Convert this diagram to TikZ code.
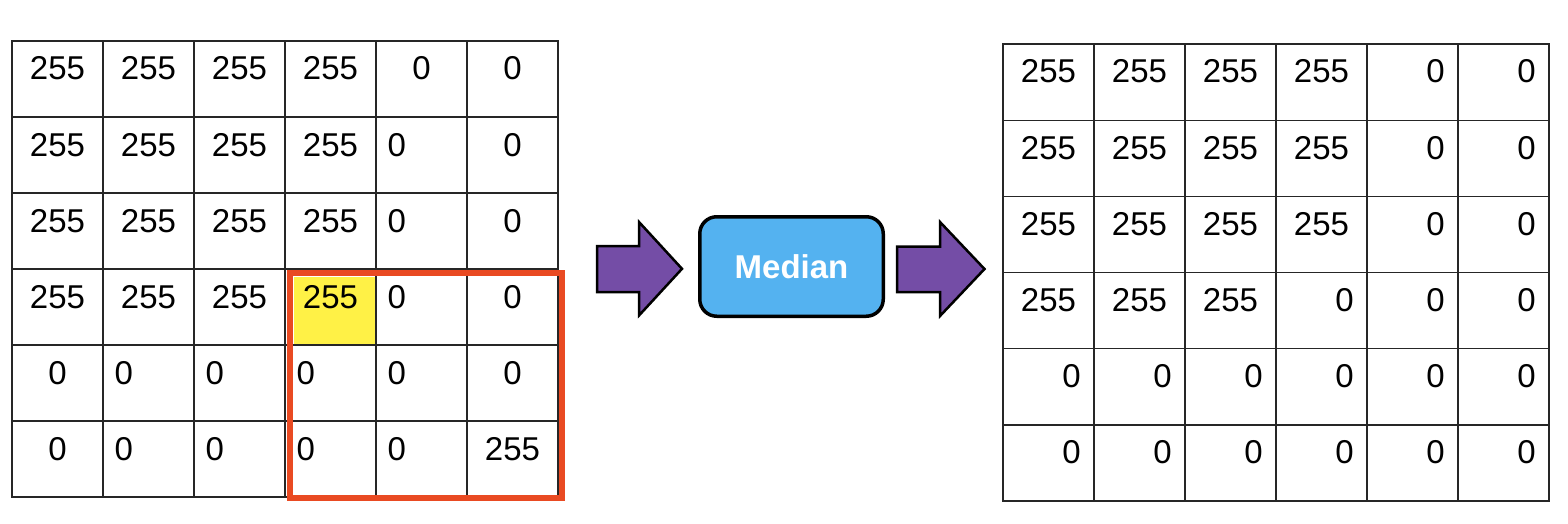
\documentclass[tikz,border=0pt]{standalone}
\usepackage{fontspec}
\setmainfont{Liberation Sans}
\definecolor{redbox}{RGB}{233,74,34}
\definecolor{hlyellow}{RGB}{255,241,70}
\definecolor{medblue}{RGB}{84,178,240}
\definecolor{arrowpurple}{RGB}{116,77,166}
\newcommand\lnum[4]{\node[num#4] (L#1-#2) at ({12+91*(#2-1)},{41+76*(#1-1)+39}) {#3};}
\newcommand\rnum[4]{\node[num#4] (R#1-#2) at ({1003+91*(#2-1)},{44+76.17*(#1-1)+39}) {#3};}
\begin{document}
\begin{tikzpicture}[x=1pt,y=-1pt,
  num/.style={inner sep=0pt,font=\fontsize{33}{40}\selectfont},
  numc/.style={num,anchor=base,xshift=45.5pt},
  numl/.style={num,anchor=base west,xshift=11.5pt},
  numr/.style={num,anchor=base east,xshift=78pt},
  gridline/.style={draw=black!85,line width=1.3pt},
  outerline/.style={draw=black!85,line width=2.2pt},
  bigarrow/.style={fill=arrowpurple,draw=black,line width=2.5pt,line join=miter},
  medbox/.style={fill=medblue,draw=black,line width=3.5pt,rounded corners=17pt,
    minimum width=183.5pt,minimum height=99.5pt,inner sep=0pt,
    text=white,font=\bfseries\fontsize{33}{40}\selectfont}]
\useasboundingbox (0,0) rectangle (1568,524);
\fill[white] (0,0) rectangle (1568,524);
% ---------- left grid ----------
\fill[hlyellow] (294,277) rectangle (376.7,345);
\foreach \i in {0,...,6} \draw[gridline] ({12+91*\i},41) -- ({12+91*\i},497);
\foreach \j in {0,...,6} \draw[gridline] (12,{41+76*\j}) -- (558,{41+76*\j});
\draw[outerline] (12,41) rectangle (558,497);
\foreach \c/\v/\s in {1/255/c,2/255/c,3/255/c,4/255/c,5/0/c,6/0/c} {\lnum{1}{\c}{\v}{\s}}
\foreach \c/\v/\s in {1/255/c,2/255/c,3/255/c,4/255/c,5/0/l,6/0/c} {\lnum{2}{\c}{\v}{\s}}
\foreach \c/\v/\s in {1/255/c,2/255/c,3/255/c,4/255/c,5/0/l,6/0/c} {\lnum{3}{\c}{\v}{\s}}
\foreach \c/\v/\s in {1/255/c,2/255/c,3/255/c,4/255/c,5/0/l,6/0/c} {\lnum{4}{\c}{\v}{\s}}
\foreach \c/\v/\s in {1/0/c,2/0/l,3/0/l,4/0/l,5/0/l,6/0/c} {\lnum{5}{\c}{\v}{\s}}
\foreach \c/\v/\s in {1/0/c,2/0/l,3/0/l,4/0/l,5/0/l,6/255/c} {\lnum{6}{\c}{\v}{\s}}
\draw[redbox,line width=6.5pt] (290,273) rectangle (562,498);
% ---------- right grid ----------
\foreach \i in {0,...,6} \draw[gridline] ({1003+91*\i},44) -- ({1003+91*\i},501);
\foreach \j in {0,...,6} \draw[gridline] (1003,{44+76.17*\j}) -- (1549,{44+76.17*\j});
\draw[outerline] (1003,44) rectangle (1549,501);
\foreach \r in {1,2,3} {\foreach \c/\v/\s in {1/255/c,2/255/c,3/255/c,4/255/c,5/0/r,6/0/r} {\rnum{\r}{\c}{\v}{\s}}}
\foreach \c/\v/\s in {1/255/c,2/255/c,3/255/c,4/0/r,5/0/r,6/0/r} {\rnum{4}{\c}{\v}{\s}}
\foreach \r in {5,6} {\foreach \c in {1,...,6} {\rnum{\r}{\c}{0}{r}}}
% ---------- median box and arrows ----------
\node[medbox] (med) at (791.5,266.5) {Median};
\draw[bigarrow] (597,246) -- (639,246) -- (639,222) -- (682,268.8) -- (639,315.5) -- (639,292) -- (597,292) -- cycle;
\draw[bigarrow] (897,246.5) -- (940,246.5) -- (940,222) -- (984.5,269) -- (940,316) -- (940,292) -- (897,292) -- cycle;
\end{tikzpicture}
\end{document}
